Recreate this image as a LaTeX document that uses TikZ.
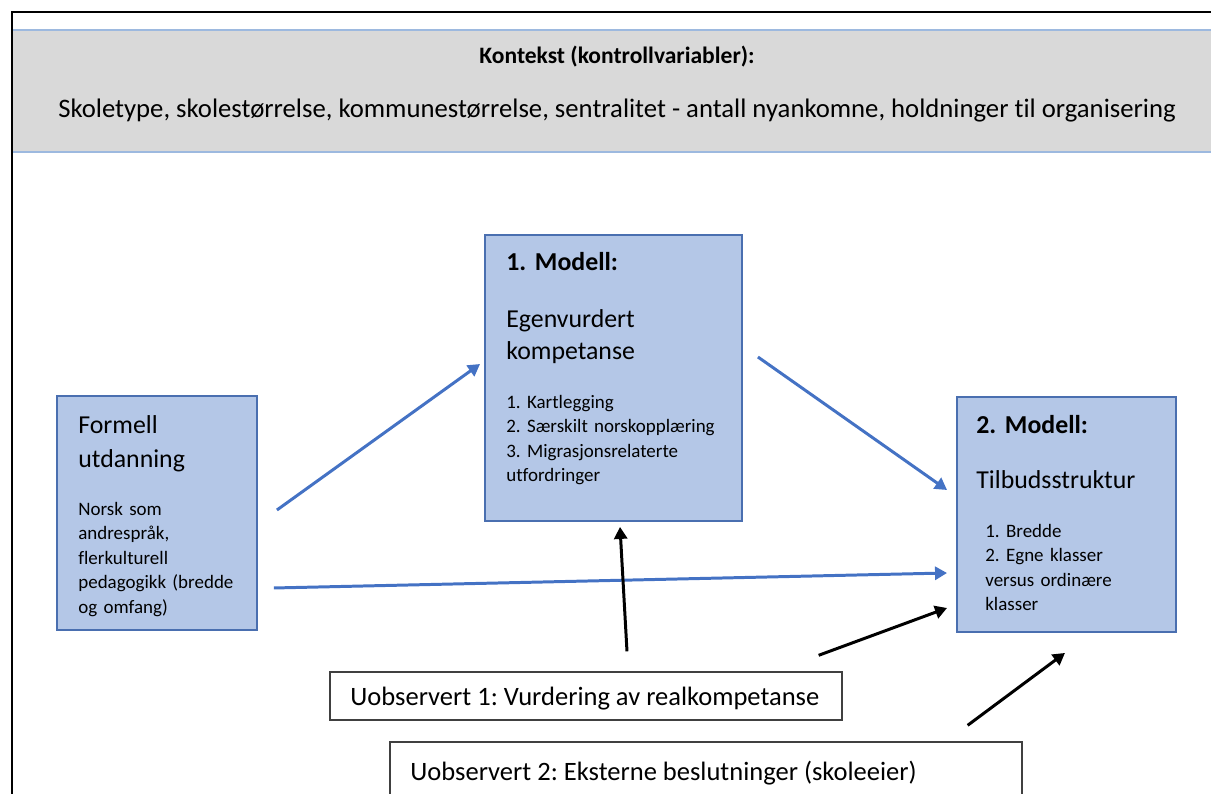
\documentclass[tikz,border=0pt]{standalone}
\usepackage{fontspec}
\setmainfont{Carlito}[Ligatures=NoCommon]
\usetikzlibrary{arrows.meta}

\definecolor{boxfill}{HTML}{B4C7E7}
\definecolor{boxline}{HTML}{4A6FB0}
\definecolor{arrowblue}{HTML}{4472C4}
\definecolor{ctxfill}{HTML}{D9D9D9}
\definecolor{ctxline}{HTML}{9DB9DF}

\tikzset{
  modelbox/.style={draw=boxline, fill=boxfill, line width=1.1pt, inner sep=0pt},
  plainbox/.style={draw=black!75, fill=white, line width=0.8pt, inner sep=0pt},
  bigtxt/.style={anchor=base west, inner sep=0pt, text width=5cm, align=left,
    font=\fontsize{14.7}{19.8}\selectfont},
  smalltxt/.style={anchor=base west, inner sep=0pt, text width=5cm, align=left,
    font=\fontsize{10.8}{14}\selectfont},
  bluearrow/.style={draw=arrowblue, line width=1.7pt, -{Triangle[length=0.24cm,width=0.26cm]}},
  blackarrow/.style={draw=black, line width=1.7pt, -{Triangle[length=0.24cm,width=0.26cm]}}
}

\begin{document}
\frenchspacing
\begin{tikzpicture}[x=0.02cm, y=-0.02cm]
  \useasboundingbox (0,0) rectangle (1211,794);
  % context bar
  \node[draw=ctxline, fill=ctxfill, line width=1pt, minimum width=24.36cm, minimum height=2.44cm] (kontekst) at (621,91) {};
  \node[anchor=base, inner sep=0pt, font=\bfseries\fontsize{13.4}{16}\selectfont] (ktitle) at (617,64) {Kontekst (kontrollvariabler):};
  \node[anchor=base, inner sep=0pt, font=\fontsize{15.2}{18}\selectfont] (kline) at (617,118) {Skoletype, skolestørrelse, kommunestørrelse, sentralitet - antall nyankomne, holdninger til organisering};
  % outer frame
  \draw[line width=1.7pt] (1240,12) -- (12,12) -- (12,820);

  % boxes
  \node[modelbox, minimum width=4.0cm, minimum height=4.68cm] (formell) at (157,513) {};
  \node[bigtxt] (ftitle) at (78,433) {Formell\\utdanning};
  \node[smalltxt] (fbody) at (78,515) {Norsk som\\andrespråk,\\flerkulturell\\pedagogikk (bredde\\og omfang)};

  \node[modelbox, minimum width=5.14cm, minimum height=5.72cm] (modell1) at (613.5,378) {};
  \node[bigtxt, font=\bfseries\fontsize{14.7}{19.8}\selectfont] (m1head) at (506,270) {1. Modell:};
  \node[bigtxt, font=\fontsize{14.7}{18.7}\selectfont] (m1title) at (506,327) {Egenvurdert\\kompetanse};
  \node[smalltxt] (m1list) at (506,408) {1. Kartlegging\\2. Særskilt norskopplæring\\3. Migrasjonsrelaterte\\utfordringer};

  \node[modelbox, minimum width=4.38cm, minimum height=4.70cm] (modell2) at (1066.5,514.5) {};
  \node[bigtxt, font=\bfseries\fontsize{14.7}{19.8}\selectfont] (m2head) at (976,433) {2. Modell:};
  \node[bigtxt] (m2title) at (976,488) {Tilbudsstruktur};
  \node[smalltxt] (m2list) at (985,537) {1. Bredde\\2. Egne klasser\\versus ordinære\\klasser};

  \node[plainbox, minimum width=10.24cm, minimum height=0.96cm] (uobs1) at (586,696) {};
  \node[anchor=base west, inner sep=0pt, font=\fontsize{15.1}{18}\selectfont] (u1text) at (350,705) {Uobservert 1: Vurdering av realkompetanse};
  \node[plainbox, minimum width=12.64cm, minimum height=1.56cm] (uobs2) at (706,781) {};
  \node[anchor=base west, inner sep=0pt, font=\fontsize{15.1}{18}\selectfont] (u2text) at (410,780) {Uobservert 2: Eksterne beslutninger (skoleeier)};

  % arrows
  \draw[bluearrow] ([xshift=0.38cm, yshift=0.06cm]formell.east) -- ([xshift=-0.08cm, yshift=0.28cm]modell1.west);
  \draw[bluearrow] ([xshift=0.30cm, yshift=0.42cm]modell1.east) -- ([xshift=-0.18cm, yshift=0.49cm]modell2.west);
  \draw[bluearrow] ([xshift=0.32cm, yshift=-1.50cm]formell.east) -- ([xshift=-0.18cm, yshift=-1.17cm]modell2.west);
  \draw[blackarrow] ([xshift=0.82cm, yshift=0.40cm]uobs1.north) -- ([xshift=0.13cm, yshift=-0.10cm]modell1.south);
  \draw[blackarrow] ([xshift=-0.48cm, yshift=0.32cm]uobs1.north east) -- ([xshift=-0.18cm, yshift=-1.87cm]modell2.west);
  \draw[blackarrow] ([xshift=-1.10cm, yshift=0.32cm]uobs2.north east) -- ([xshift=-0.03cm, yshift=-0.40cm]modell2.south);
\end{tikzpicture}
\end{document}
